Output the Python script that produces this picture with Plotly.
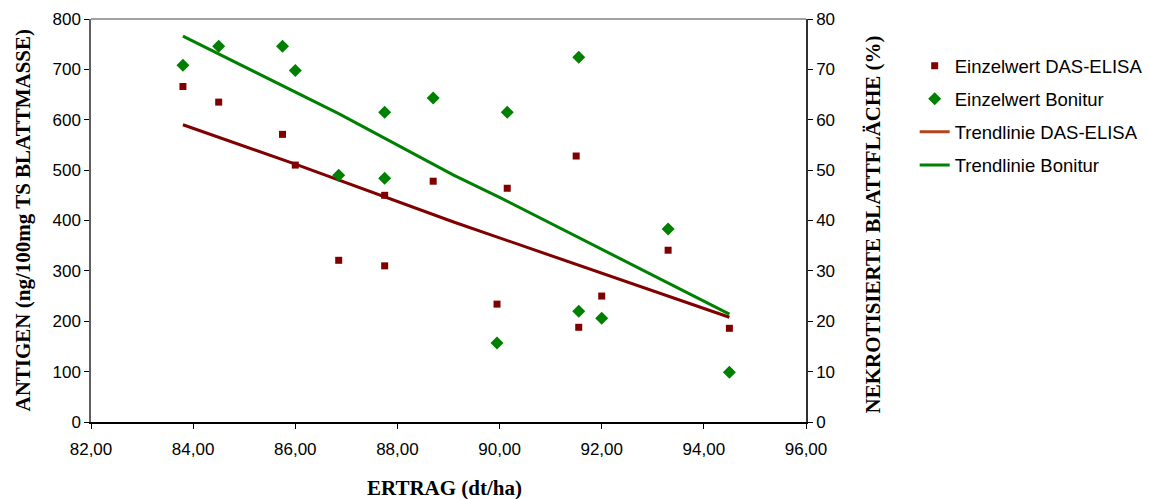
import plotly.graph_objects as go

# Einzelwerte (shared x = Ertrag dt/ha)
ertrag = [83.8, 84.5, 85.75, 86.0, 86.85, 87.75, 87.75, 88.7, 89.95, 90.15, 91.5, 91.55, 92.0, 93.3, 94.5]
elisa = [666, 635, 571, 510, 321, 450, 310, 478, 234, 464, 528, 188, 250, 341, 186]
bonitur_x = [83.8, 84.5, 85.75, 86.0, 86.85, 87.75, 87.75, 88.7, 89.95, 90.15, 91.55, 91.55, 92.0, 93.3, 94.5]
bonitur = [70.8, 74.6, 74.6, 69.8, 49.0, 48.4, 61.5, 64.3, 15.7, 61.5, 72.4, 22.0, 20.6, 38.3, 9.9]

# Trendlinien (as drawn)
trend_elisa_x = [83.8, 86.0, 89.1, 92.15, 94.5]
trend_elisa_y = [590, 512, 397, 290, 208]
trend_bon_x = [83.8, 86.0, 86.85, 89.1, 90.0, 94.5]
trend_bon_y = [76.6, 65.6, 61.2, 49.0, 44.6, 21.4]

x_ticks = [82, 84, 86, 88, 90, 92, 94, 96]

RED = "#800000"
GREEN = "#008000"
SANS = "Liberation Sans, Arial, sans-serif"
SERIF = "Liberation Serif, Times New Roman, serif"

fig = go.Figure()
fig.add_trace(go.Scatter(x=ertrag, y=elisa, mode="markers", name="Einzelwert DAS-ELISA",
                         legendgroup="a",
                         marker=dict(symbol="square", size=7, color=RED)))
fig.add_trace(go.Scatter(x=bonitur_x, y=bonitur, mode="markers", name="Einzelwert Bonitur",
                         legendgroup="b", yaxis="y2",
                         marker=dict(symbol="diamond", size=10, color=GREEN)))
fig.add_trace(go.Scatter(x=trend_elisa_x, y=trend_elisa_y, mode="lines", name="Trendlinie DAS-ELISA",
                         legendgroup="c", showlegend=False,
                         line=dict(color=RED, width=3)))
fig.add_trace(go.Scatter(x=[None], y=[None], mode="lines", name="Trendlinie DAS-ELISA",
                         legendgroup="c", line=dict(color="#B0441A", width=3)))
fig.add_trace(go.Scatter(x=trend_bon_x, y=trend_bon_y, mode="lines", name="Trendlinie Bonitur",
                         legendgroup="d", yaxis="y2",
                         line=dict(color=GREEN, width=3)))

axis_common = dict(showgrid=False, zeroline=False, showline=True, linewidth=1.5,
                   ticks="outside", ticklen=5, tickwidth=1, tickcolor="#000",
                   tickfont=dict(family=SANS, size=17, color="#000"))

fig.update_layout(
    width=1149, height=499,
    margin=dict(l=91, r=343, t=19, b=77, autoexpand=False),
    paper_bgcolor="white", plot_bgcolor="white",
    separators=",.",
    xaxis=dict(range=[82, 96], tickvals=x_ticks, tickformat=".2f", linecolor="#000",
               ticklabelstandoff=6, **axis_common),
    yaxis=dict(range=[0, 800], dtick=100, linecolor="#606060", **axis_common),
    yaxis2=dict(range=[0, 80], dtick=10, overlaying="y", side="right", linecolor="#303030",
                **axis_common),
    legend=dict(x=1.152, y=0.93, xanchor="left", yanchor="top",
                font=dict(family=SANS, size=18.5, color="#000"),
                tracegroupgap=6, bgcolor="rgba(0,0,0,0)"),
    shapes=[dict(type="line", xref="paper", yref="paper", x0=0, x1=1, y0=1, y1=1,
                 line=dict(color="#808080", width=1.5))],
    annotations=[
        dict(text="ANTIGEN (ng/100mg TS BLATTMASSE)", xref="paper", yref="paper",
             x=-0.0965, y=0.5, xanchor="center", yanchor="middle", textangle=-90, showarrow=False,
             font=dict(family=SERIF, size=21, color="#000", weight="bold")),
        dict(text="NEKROTISIERTE BLATTFLÄCHE (%)", xref="paper", yref="paper",
             x=1.0937, y=0.49, xanchor="center", yanchor="middle", textangle=-90, showarrow=False,
             font=dict(family=SERIF, size=21, color="#000", weight="bold")),
        dict(text="ERTRAG (dt/ha)", xref="paper", yref="paper",
             x=0.495, y=-0.164, xanchor="center", yanchor="middle", showarrow=False,
             font=dict(family=SERIF, size=21, color="#000", weight="bold")),
    ],
)

fig.write_html("out.html")
